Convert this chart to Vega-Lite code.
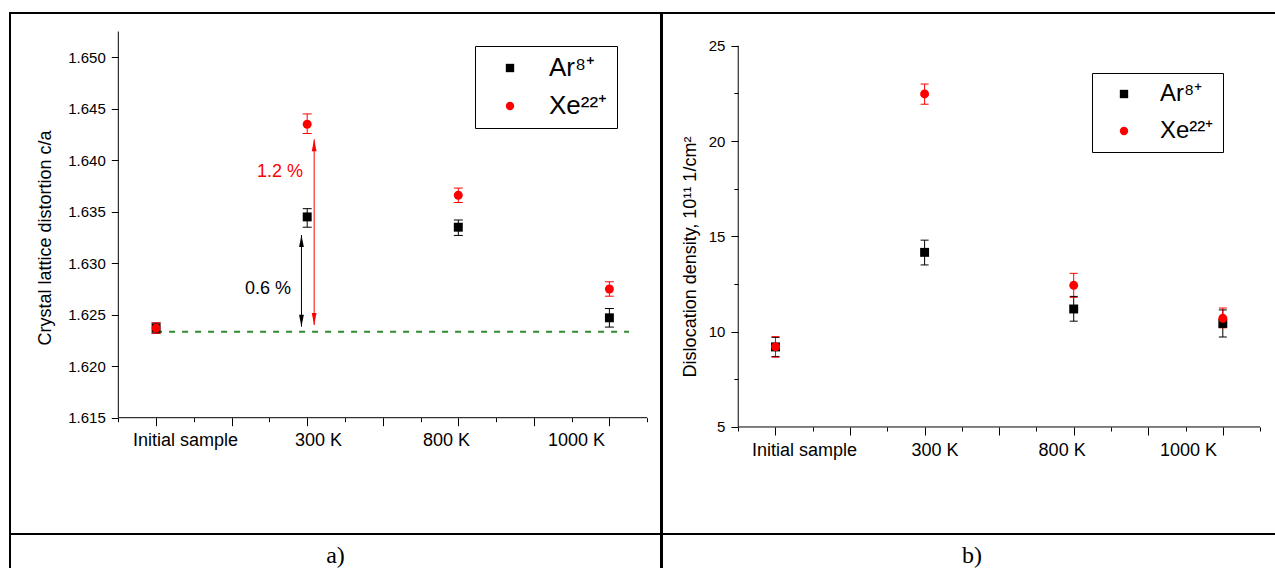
{
  "$schema": "https://vega.github.io/schema/vega-lite/v6.json",
  "padding": {"left": 9, "top": 12, "right": 0, "bottom": 0},
  "background": "white",
  "spacing": -2,
  "resolve": {"scale": {"color": "independent", "shape": "independent"}, "legend": {"color": "independent", "shape": "independent"}},
  "config": {
    "view": {"stroke": "black", "strokeWidth": 2},
    "axis": {"grid": false, "domain": false, "tickColor": "black", "tickWidth": 1, "labelColor": "black", "titleColor": "black", "labelFont": "Liberation Sans", "titleFont": "Liberation Sans", "titleFontWeight": "normal"},
    "text": {"font": "Liberation Sans"}
  },
  "datasets": {
    "ptsA": [
      {"pos": 1, "sample": "Initial sample", "ion": "Ar⁸⁺", "value": 1.6237, "lo": 1.6232, "hi": 1.6242},
      {"pos": 2, "sample": "300 K", "ion": "Ar⁸⁺", "value": 1.6345, "lo": 1.6335, "hi": 1.6353},
      {"pos": 3, "sample": "800 K", "ion": "Ar⁸⁺", "value": 1.6335, "lo": 1.6327, "hi": 1.6342},
      {"pos": 4, "sample": "1000 K", "ion": "Ar⁸⁺", "value": 1.6247, "lo": 1.6238, "hi": 1.6256},
      {"pos": 1, "sample": "Initial sample", "ion": "Xe²²⁺", "value": 1.6237, "lo": 1.6232, "hi": 1.6242},
      {"pos": 2, "sample": "300 K", "ion": "Xe²²⁺", "value": 1.6435, "lo": 1.6426, "hi": 1.6445},
      {"pos": 3, "sample": "800 K", "ion": "Xe²²⁺", "value": 1.6366, "lo": 1.6359, "hi": 1.6373},
      {"pos": 4, "sample": "1000 K", "ion": "Xe²²⁺", "value": 1.6275, "lo": 1.6268, "hi": 1.6282}
    ],
    "ptsB": [
      {"pos": 1, "sample": "Initial sample", "ion": "Ar⁸⁺", "value": 9.2, "lo": 8.7, "hi": 9.7},
      {"pos": 2, "sample": "300 K", "ion": "Ar⁸⁺", "value": 14.16, "lo": 13.5, "hi": 14.8},
      {"pos": 3, "sample": "800 K", "ion": "Ar⁸⁺", "value": 11.19, "lo": 10.55, "hi": 11.85},
      {"pos": 4, "sample": "1000 K", "ion": "Ar⁸⁺", "value": 10.43, "lo": 9.72, "hi": 11.14},
      {"pos": 1, "sample": "Initial sample", "ion": "Xe²²⁺", "value": 9.21, "lo": 8.66, "hi": 9.74},
      {"pos": 2, "sample": "300 K", "ion": "Xe²²⁺", "value": 22.47, "lo": 21.93, "hi": 22.99},
      {"pos": 3, "sample": "800 K", "ion": "Xe²²⁺", "value": 12.43, "lo": 11.8, "hi": 13.06},
      {"pos": 4, "sample": "1000 K", "ion": "Xe²²⁺", "value": 10.7, "lo": 10.2, "hi": 11.24}
    ],
    "axesA": [
      {"x1": 0.75, "x2": 4.25, "y1": 1.615, "y2": 1.615},
      {"x1": 0.75, "x2": 0.75, "y1": 1.615, "y2": 1.6525}
    ],
    "axesB": [
      {"x1": 0.75, "x2": 4.25, "y1": 5, "y2": 5},
      {"x1": 0.75, "x2": 0.75, "y1": 5, "y2": 25}
    ],
    "baseline": [{"from": 1, "to": 4.13, "level": 1.62335}],
    "arrows": [
      {"ion": "Ar⁸⁺", "pos": 1.962, "lo": 1.62384, "hi": 1.63274, "label": "0.6 %", "lx": 1.741, "ly": 1.6275},
      {"ion": "Xe²²⁺", "pos": 2.046, "lo": 1.624, "hi": 1.64203, "label": "1.2 %", "lx": 1.82, "ly": 1.6389}
    ]
  },
  "hconcat": [
    {
      "spacing": 0,
      "bounds": "flush",
      "vconcat": [
        {
          "width": 651,
          "height": 521,
          "resolve": {"axis": {"x": "independent"}},
          "layer": [
            {
              "data": {"name": "axesA"},
              "mark": {"type": "rule", "color": "black", "strokeWidth": 1},
              "encoding": {
                "x": {"field": "x1", "type": "quantitative", "scale": {"domain": [0.0331, 4.3415], "nice": false, "zero": false},
                  "axis": {"orient": "bottom", "offset": -116.3, "values": [1.191, 2.071, 2.918, 3.779], "ticks": false, "tickSize": 0, "labelExpr": "datum.value < 1.5 ? 'Initial sample' : datum.value < 2.5 ? '300 K' : datum.value < 3.5 ? '800 K' : '1000 K'", "labelFontSize": 18, "labelPadding": 14, "labelFlush": false, "labelOverlap": false, "title": null}},
                "x2": {"field": "x2"},
                "y": {"field": "y1", "type": "quantitative", "scale": {"domain": [1.603705, 1.654302], "nice": false, "zero": false}},
                "y2": {"field": "y2"}
              }
            },
            {
              "data": {"name": "baseline"},
              "mark": {"type": "rule", "color": "#2e8b2e", "strokeWidth": 2, "strokeDash": [6, 7]},
              "encoding": {
                "x": {"field": "from", "type": "quantitative", "scale": {"domain": [0.0331, 4.3415], "nice": false, "zero": false}, "axis": null},
                "x2": {"field": "to"},
                "y": {"field": "level", "type": "quantitative", "scale": {"domain": [1.603705, 1.654302], "nice": false, "zero": false}}
              }
            },
            {
              "data": {"name": "arrows"},
              "mark": {"type": "rule", "strokeWidth": 1},
              "encoding": {
                "x": {"field": "pos", "type": "quantitative", "scale": {"domain": [0.0331, 4.3415], "nice": false, "zero": false}, "axis": null},
                "y": {"field": "lo", "type": "quantitative", "scale": {"domain": [1.603705, 1.654302], "nice": false, "zero": false}},
                "y2": {"field": "hi"},
                "color": {"field": "ion", "type": "nominal", "scale": {"domain": ["Ar⁸⁺", "Xe²²⁺"], "range": ["black", "red"]}}
              }
            },
            {
              "data": {"name": "arrows"},
              "mark": {"type": "point", "shape": "M-0.4,1L0,-1L0.4,1Z", "filled": true, "opacity": 1, "size": 144, "yOffset": 6},
              "encoding": {
                "x": {"field": "pos", "type": "quantitative", "scale": {"domain": [0.0331, 4.3415], "nice": false, "zero": false}, "axis": null},
                "y": {"field": "hi", "type": "quantitative", "scale": {"domain": [1.603705, 1.654302], "nice": false, "zero": false}},
                "color": {"field": "ion", "type": "nominal", "scale": {"domain": ["Ar⁸⁺", "Xe²²⁺"], "range": ["black", "red"]}}
              }
            },
            {
              "data": {"name": "arrows"},
              "mark": {"type": "point", "shape": "M-0.4,-1L0,1L0.4,-1Z", "filled": true, "opacity": 1, "size": 144, "yOffset": -6},
              "encoding": {
                "x": {"field": "pos", "type": "quantitative", "scale": {"domain": [0.0331, 4.3415], "nice": false, "zero": false}, "axis": null},
                "y": {"field": "lo", "type": "quantitative", "scale": {"domain": [1.603705, 1.654302], "nice": false, "zero": false}},
                "color": {"field": "ion", "type": "nominal", "scale": {"domain": ["Ar⁸⁺", "Xe²²⁺"], "range": ["black", "red"]}}
              }
            },
            {
              "data": {"name": "arrows"},
              "mark": {"type": "text", "fontSize": 18, "align": "center", "baseline": "middle"},
              "encoding": {
                "x": {"field": "lx", "type": "quantitative", "scale": {"domain": [0.0331, 4.3415], "nice": false, "zero": false}, "axis": null},
                "y": {"field": "ly", "type": "quantitative", "scale": {"domain": [1.603705, 1.654302], "nice": false, "zero": false}},
                "text": {"field": "label"},
                "color": {"field": "ion", "type": "nominal", "scale": {"domain": ["Ar⁸⁺", "Xe²²⁺"], "range": ["black", "red"]}}
              }
            },
            {
              "data": {"name": "ptsA"},
              "mark": {"type": "rule", "strokeWidth": 1},
              "encoding": {
                "x": {"field": "pos", "type": "quantitative", "scale": {"domain": [0.0331, 4.3415], "nice": false, "zero": false}, "axis": null},
                "y": {"field": "lo", "type": "quantitative", "scale": {"domain": [1.603705, 1.654302], "nice": false, "zero": false}},
                "y2": {"field": "hi"},
                "color": {"field": "ion", "type": "nominal", "scale": {"domain": ["Ar⁸⁺", "Xe²²⁺"], "range": ["black", "red"]}}
              }
            },
            {
              "data": {"name": "ptsA"},
              "mark": {"type": "tick", "orient": "horizontal", "size": 9, "thickness": 1, "opacity": 1},
              "encoding": {
                "x": {"field": "pos", "type": "quantitative", "scale": {"domain": [0.0331, 4.3415], "nice": false, "zero": false}, "axis": null},
                "y": {"field": "lo", "type": "quantitative", "scale": {"domain": [1.603705, 1.654302], "nice": false, "zero": false}},
                "color": {"field": "ion", "type": "nominal", "scale": {"domain": ["Ar⁸⁺", "Xe²²⁺"], "range": ["black", "red"]}}
              }
            },
            {
              "data": {"name": "ptsA"},
              "mark": {"type": "tick", "orient": "horizontal", "size": 9, "thickness": 1, "opacity": 1},
              "encoding": {
                "x": {"field": "pos", "type": "quantitative", "scale": {"domain": [0.0331, 4.3415], "nice": false, "zero": false}, "axis": null},
                "y": {"field": "hi", "type": "quantitative", "scale": {"domain": [1.603705, 1.654302], "nice": false, "zero": false}},
                "color": {"field": "ion", "type": "nominal", "scale": {"domain": ["Ar⁸⁺", "Xe²²⁺"], "range": ["black", "red"]}}
              }
            },
            {
              "data": {"name": "ptsA"},
              "mark": {"type": "point", "filled": true, "opacity": 1, "size": 80},
              "encoding": {
                "x": {"field": "pos", "type": "quantitative", "scale": {"domain": [0.0331, 4.3415], "nice": false, "zero": false},
                  "axis": {"orient": "bottom", "offset": -116.3, "values": [0.75, 1, 1.25, 1.5, 1.75, 2, 2.25, 2.5, 2.75, 3, 3.25, 3.5, 3.75, 4, 4.25], "labels": false, "title": null,
                    "tickSize": {"condition": {"test": "abs(datum.value*2 - round(datum.value*2)) < 0.01", "value": 8}, "value": 4}}},
                "y": {"field": "value", "type": "quantitative", "scale": {"domain": [1.603705, 1.654302], "nice": false, "zero": false},
                  "axis": {"orient": "left", "offset": -108.3, "values": [1.615, 1.6175, 1.62, 1.6225, 1.625, 1.6275, 1.63, 1.6325, 1.635, 1.6375, 1.64, 1.6425, 1.645, 1.6475, 1.65, 1.6525],
                    "tickSize": {"condition": {"test": "abs(datum.value*200 - round(datum.value*200)) < 0.01", "value": 7}, "value": 4},
                    "labelExpr": "abs(datum.value*200 - round(datum.value*200)) < 0.01 ? format(datum.value, '.3f') : ''",
                    "labelFontSize": 15, "labelPadding": 6, "labelOverlap": false, "labelFlush": false,
                    "title": "Crystal lattice distortion c/a", "titleFontSize": 18, "titleX": -64, "titleY": 224.5}},
                "color": {"field": "ion", "type": "nominal", "scale": {"domain": ["Ar⁸⁺", "Xe²²⁺"], "range": ["black", "red"]},
                  "legend": {"title": null, "orient": "none", "legendX": 465, "legendY": 33, "strokeColor": "black", "padding": 9, "symbolOffset": 13, "labelOffset": 26, "labelFontSize": 26, "labelFont": "Liberation Sans", "labelColor": "black", "rowPadding": 12, "symbolSize": 70, "symbolStrokeWidth": 0}},
                "shape": {"field": "ion", "type": "nominal", "scale": {"domain": ["Ar⁸⁺", "Xe²²⁺"], "range": ["square", "circle"]},
                  "legend": {"title": null, "orient": "none", "legendX": 465, "legendY": 33, "strokeColor": "black", "padding": 9, "symbolOffset": 13, "labelOffset": 26, "labelFontSize": 26, "labelFont": "Liberation Sans", "labelColor": "black", "rowPadding": 12, "symbolSize": 70, "symbolStrokeWidth": 0}}
              }
            }
          ]
        },
        {
          "width": 651,
          "height": 44,
          "data": {"values": [{"panel": "a)"}]},
          "layer": [
            {"mark": {"type": "rect", "fill": "white", "fillOpacity": 0, "stroke": "black", "strokeWidth": 2}},
            {
              "mark": {"type": "text", "font": "Liberation Serif", "fontSize": 24, "align": "center", "baseline": "middle", "color": "black"},
              "encoding": {"text": {"field": "panel"}}
            }
          ]
        }
      ]
    },
    {
      "spacing": 0,
      "bounds": "flush",
      "vconcat": [
        {
          "width": 620,
          "height": 521,
          "resolve": {"axis": {"x": "independent"}},
          "layer": [
            {
              "data": {"name": "axesB"},
              "mark": {"type": "rule", "color": "black", "strokeWidth": 1},
              "encoding": {
                "x": {"field": "x1", "type": "quantitative", "scale": {"domain": [0.2388, 4.397], "nice": false, "zero": false},
                  "axis": {"orient": "bottom", "offset": -107, "values": [1.191, 2.067, 2.919, 3.767], "ticks": false, "tickSize": 0, "labelExpr": "datum.value < 1.5 ? 'Initial sample' : datum.value < 2.5 ? '300 K' : datum.value < 3.5 ? '800 K' : '1000 K'", "labelFontSize": 18, "labelPadding": 14, "labelFlush": false, "labelOverlap": false, "title": null}},
                "x2": {"field": "x2"},
                "y": {"field": "y1", "type": "quantitative", "scale": {"domain": [-0.614, 26.716], "nice": false, "zero": false}},
                "y2": {"field": "y2"}
              }
            },
            {
              "data": {"name": "ptsB"},
              "mark": {"type": "rule", "strokeWidth": 1},
              "encoding": {
                "x": {"field": "pos", "type": "quantitative", "scale": {"domain": [0.2388, 4.397], "nice": false, "zero": false}, "axis": null},
                "y": {"field": "lo", "type": "quantitative", "scale": {"domain": [-0.614, 26.716], "nice": false, "zero": false}},
                "y2": {"field": "hi"},
                "color": {"field": "ion", "type": "nominal", "scale": {"domain": ["Ar⁸⁺", "Xe²²⁺"], "range": ["black", "red"]}}
              }
            },
            {
              "data": {"name": "ptsB"},
              "mark": {"type": "tick", "orient": "horizontal", "size": 8, "thickness": 1, "opacity": 1},
              "encoding": {
                "x": {"field": "pos", "type": "quantitative", "scale": {"domain": [0.2388, 4.397], "nice": false, "zero": false}, "axis": null},
                "y": {"field": "lo", "type": "quantitative", "scale": {"domain": [-0.614, 26.716], "nice": false, "zero": false}},
                "color": {"field": "ion", "type": "nominal", "scale": {"domain": ["Ar⁸⁺", "Xe²²⁺"], "range": ["black", "red"]}}
              }
            },
            {
              "data": {"name": "ptsB"},
              "mark": {"type": "tick", "orient": "horizontal", "size": 8, "thickness": 1, "opacity": 1},
              "encoding": {
                "x": {"field": "pos", "type": "quantitative", "scale": {"domain": [0.2388, 4.397], "nice": false, "zero": false}, "axis": null},
                "y": {"field": "hi", "type": "quantitative", "scale": {"domain": [-0.614, 26.716], "nice": false, "zero": false}},
                "color": {"field": "ion", "type": "nominal", "scale": {"domain": ["Ar⁸⁺", "Xe²²⁺"], "range": ["black", "red"]}}
              }
            },
            {
              "data": {"name": "ptsB"},
              "mark": {"type": "point", "filled": true, "opacity": 1, "size": 80},
              "encoding": {
                "x": {"field": "pos", "type": "quantitative", "scale": {"domain": [0.2388, 4.397], "nice": false, "zero": false},
                  "axis": {"orient": "bottom", "offset": -107, "values": [0.75, 1, 1.25, 1.5, 1.75, 2, 2.25, 2.5, 2.75, 3, 3.25, 3.5, 3.75, 4, 4.25], "labels": false, "title": null,
                    "tickSize": {"condition": {"test": "abs(datum.value*2 - round(datum.value*2)) < 0.01", "value": 8}, "value": 4}}},
                "y": {"field": "value", "type": "quantitative", "scale": {"domain": [-0.614, 26.716], "nice": false, "zero": false},
                  "axis": {"orient": "left", "offset": -75.9, "values": [5, 7.5, 10, 12.5, 15, 17.5, 20, 22.5, 25],
                    "tickSize": {"condition": {"test": "datum.value % 5 === 0", "value": 7}, "value": 4},
                    "labelExpr": "datum.value % 5 === 0 ? format(datum.value, 'd') : ''",
                    "labelFontSize": 15, "labelPadding": 6, "labelOverlap": false, "labelFlush": false,
                    "title": "Dislocation density, 10¹¹  1/cm²", "titleFontSize": 18, "titleX": -38, "titleY": 243.5}},
                "color": {"field": "ion", "type": "nominal", "scale": {"domain": ["Ar⁸⁺", "Xe²²⁺"], "range": ["black", "red"]},
                  "legend": {"title": null, "orient": "none", "legendX": 430, "legendY": 60, "strokeColor": "black", "padding": 9, "symbolOffset": 11, "labelOffset": 24, "labelFontSize": 24, "labelFont": "Liberation Sans", "labelColor": "black", "rowPadding": 13, "symbolSize": 70, "symbolStrokeWidth": 0}},
                "shape": {"field": "ion", "type": "nominal", "scale": {"domain": ["Ar⁸⁺", "Xe²²⁺"], "range": ["square", "circle"]},
                  "legend": {"title": null, "orient": "none", "legendX": 430, "legendY": 60, "strokeColor": "black", "padding": 9, "symbolOffset": 11, "labelOffset": 24, "labelFontSize": 24, "labelFont": "Liberation Sans", "labelColor": "black", "rowPadding": 13, "symbolSize": 70, "symbolStrokeWidth": 0}}
              }
            }
          ]
        },
        {
          "width": 620,
          "height": 44,
          "data": {"values": [{"panel": "b)"}]},
          "layer": [
            {"mark": {"type": "rect", "fill": "white", "fillOpacity": 0, "stroke": "black", "strokeWidth": 2}},
            {
              "mark": {"type": "text", "font": "Liberation Serif", "fontSize": 24, "align": "center", "baseline": "middle", "color": "black"},
              "encoding": {"text": {"field": "panel"}}
            }
          ]
        }
      ]
    }
  ]
}
